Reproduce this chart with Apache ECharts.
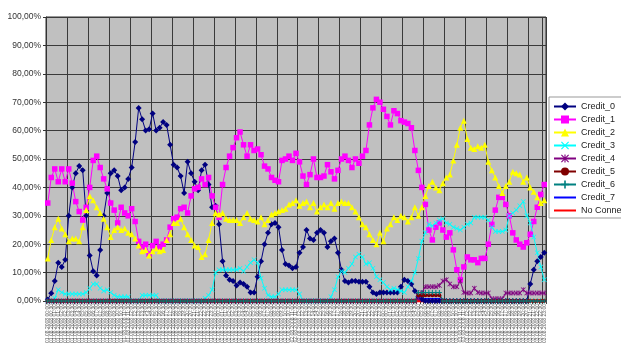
<!DOCTYPE html>
<html><head><meta charset="utf-8">
<script src="https://cdn.jsdelivr.net/npm/echarts@6/dist/echarts.min.js"></script>
<style>html,body{margin:0;padding:0;background:#fff}#c{width:621px;height:350px}</style>
</head><body><div id="c"></div>
<script>
// category labels (timestamps, unreadable in the reference; one per sample)
const categories = [];
for (let i = 0; i < 143; i++) {
  const t = new Date(Date.UTC(2008, 7, 1, 0, 0) + i * 30 * 60000);
  const p = n => String(n).padStart(2, '0');
  categories.push(p(t.getUTCDate()) + '.' + p(t.getUTCMonth() + 1) + '.' + t.getUTCFullYear() + ' ' + p(t.getUTCHours()) + ':' + p(t.getUTCMinutes()));
}
const yTicks = [0, 10, 20, 30, 40, 50, 60, 70, 80, 90, 100];
const seriesNames = ['Credit_0','Credit_1','Credit_2','Credit_3','Credit_4','Credit_5','Credit_6','Credit_7','No Connect'];

const credit0 = [
0.5,2.7,7,13.5,12,14.5,30,40,45,47.5,
46,30,16,10.5,9,18,30,38,45,46,
44,39,40,43,47,56,68,64,60,60.5,
66,60,61,63,62,55,48,47,44,38,
49,45,42,39,46,48,41,33,33.5,27,
14,9,7.5,7,5.5,6.5,6,5,3,3,
8.5,14,20,24,27,27.5,26,18,13,12.5,
11.5,12,17,19,25,22,21.5,24,25,24,
19,21,22,17,11,7,6.5,7,7,6.8,
6.8,6.8,5,3,2.5,3,3,3,3,3,
3,5,7.5,7,6,3.5,1.5,0.5,0,0,
0,0,0,0,0,0,0,0,0,0,
0,0,0,0,0,0,0,0,0,0,
0,0,0,0,0,0,0,0,6,11,
14,15.5,17];
const credit1 = [
34.5,43.5,46.5,42,46.5,42,46.5,41.5,35,31.5,
28.5,33,40,49.5,51,47,43,39.5,34.5,32,
27.5,33,31,30,32.5,28,21,19,20,16.5,
19.5,21,19,20,21.5,26,29,29.5,32.5,33,
31,37,39.5,40,43,41,43.5,37,33,29.5,
41,47,51,54,57.5,59.5,55,51,55,53,
53.5,51.5,47.5,46.5,43.5,42.5,42,49.5,50,51,
49.5,52,49,44,41,44.5,50,43.5,43.5,44,
48,45.5,43,46,50,51,49.5,47,50,48.5,
51,53,62,68,71,70,67.5,65,62,67,
66,63.5,63,62.5,61,53,46,40,34,25,
21.5,26,27.5,25,22.5,24,18,11,7.5,12,
15.5,14.5,14.5,13.5,15,15,20,27,32,36.5,
36.5,34,30,24,21.5,20,19,20.5,23.5,28,
33,37.5,41];
const credit2 = [
15,21.5,26,29,25.5,23.5,21,22,22,21,
26,32,37,35.5,33,31,29,26,22.5,25,
26,25,25.5,24,23.5,22,19.5,17.5,18,16,
17.5,18.5,17.5,18,21.5,23.5,27.5,27.5,29,26,
23.5,21.5,19.5,19,15.5,16.5,21.5,27.5,31,30.5,
31,29,28.5,28.5,28.5,27.5,29.5,31,29,28.5,
28,29.5,27,28.5,30.5,31,31.5,32,32.5,34,
34.5,35.5,33.5,34.5,35,33,34.5,31.5,33,34,
33,34.5,32.5,34.5,35,34.5,34.5,33,31.5,29.5,
27,26,23.5,21.5,20,24,21,25.5,27,29.5,
28.5,30,29.5,28,29.5,33,30,33,37,40.5,
42,40,39,41.5,43.5,44.5,49.5,55,61,63.5,
57,54,53.5,54.5,54,55,49,46,43.5,40.5,
38,40.5,42,45.5,45,44.5,42,43.5,40,38.5,
36.5,34.5,35.5];
const credit3 = [
0,0,1,4,3,2.5,2.5,2.5,2.5,2.5,
2.5,3,4.5,6,6,4.5,3.5,4,3,2,
1.5,1.5,1.5,1.5,0,0,0,2,2,2,
2,2,0,0,0,0,0,0,0,0,
0,0,0,0,0,1,2,4,10,11,
11,11,11,11,11,11.5,10.5,12,13.5,14.5,
13.5,8,4.5,2,1.5,1.5,2.5,4,4,4,
4,4,2.5,0,0,0,0,0,0,0,
0,1.5,4,8.5,10.5,10,11.5,13,15.5,16.5,
15.5,13,13.5,11.5,8.5,7.5,6.5,5,4,4.5,
4,3.5,3,5,7,10,15,21,24,27,
26.5,27.5,28.5,29,27.5,27,26,25.5,25,26,
27,27.5,29.5,29.5,29.5,29.5,28.5,26,24.5,24.5,
24.5,25,30,31,32,33.5,35,30,27.5,22.5,
17,12,7.5];
const credit4 = [
0,0,0,0,0,0,0,0,0,0, 0,0,0,0,0,0,0,0,0,0,
0,0,0,0,0,0,0,0,0,0, 0,0,0,0,0,0,0,0,0,0,
0,0,0,0,0,0,0,0,0,0, 0,0,0,0,0,0,0,0,0,0,
0,0,0,0,0,0,0,0,0,0, 0,0,0,0,0,0,0,0,0,0,
0,0,0,0,0,0,0,0,0,0, 0,0,0,0,0,0,0,0,0,0,
0,0,0,0,0,0,1,3,5,5,
5,5,5.5,7,7.5,6,5,5,7,3,
2.8,2.8,4.5,3,2.8,2.8,2.8,0.8,0.8,0.8,
0.8,2.8,2.8,2.8,2.8,2.8,4,2.8,2.8,2.8,
2.8,2.8,2.8];
const credit5 = [
0,0,0,0,0,0,0,0,0,0, 0,0,0,0,0,0,0,0,0,0,
0,0,0,0,0,0,0,0,0,0, 0,0,0,0,0,0,0,0,0,0,
0,0,0,0,0,0,0,0,0,0, 0,0,0,0,0,0,0,0,0,0,
0,0,0,0,0,0,0,0,0,0, 0,0,0,0,0,0,0,0,0,0,
0,0,0,0,0,0,0,0,0,0, 0,0,0,0,0,0,0,0,0,0,
0,0,0,0,0,0,2,2,2,2,
2,2,2,0,0,0,0,0,0,0,
0,0,0,0,0,0,0,0,0,0, 0,0,0,0,0,0,0,0,0,0,
0,0,0];
const credit6 = [
0,0,0,0,0,0,0,0,0,0, 0,0,0,0,0,0,0,0,0,0,
0,0,0,0,0,0,0,0,0,0, 0,0,0,0,0,0,0,0,0,0,
0,0,0,0,0,0,0,0,0,0, 0,0,0,0,0,0,0,0,0,0,
0,0,0,0,0,0,0,0,0,0, 0,0,0,0,0,0,0,0,0,0,
0,0,0,0,0,0,0,0,0,0, 0,0,0,0,0,0,0,0,0,0,
0,0,0,0,0,0,3,3,3,3,
3,3,3,0,0,0,0,0,0,0,
0,0,0,0,0,0,0,0,0,0, 0,0,0,0,0,0,0,0,0,0,
0,0,0];
const credit7 = [
0,0,0,0,0,0,0,0,0,0, 0,0,0,0,0,0,0,0,0,0,
0,0,0,0,0,0,0,0,0,0, 0,0,0,0,0,0,0,0,0,0,
0,0,0,0,0,0,0,0,0,0, 0,0,0,0,0,0,0,0,0,0,
0,0,0,0,0,0,0,0,0,0, 0,0,0,0,0,0,0,0,0,0,
0,0,0,0,0,0,0,0,0,0, 0,0,0,0,0,0,0,0,0,0,
0,0,0,0,0,0,0.8,0.8,0.8,0.8,
0.8,0.8,0.8,0,0,0,0,0,0,0,
0,0,0,0,0,0,0,0,0,0, 0,0,0,0,0,0,0,0,0,0,
0,0,0];
const noConnect = [
0,0,0,0,0,0,0,0,0,0, 0,0,0,0,0,0,0,0,0,0,
0,0,0,0,0,0,0,0,0,0, 0,0,0,0,0,0,0,0,0,0,
0,0,0,0,0,0,0,0,0,0, 0,0,0,0,0,0,0,0,0,0,
0,0,0,0,0,0,0,0,0,0, 0,0,0,0,0,0,0,0,0,0,
0,0,0,0,0,0,0,0,0,0, 0,0,0,0,0,0,0,0,0,0,
0,0,0,0,0,0,0,0,0,0, 0,0,0,0,0,0,0,0,0,0,
0,0,0,0,0,0,0,0,0,0, 0,0,0,0,0,0,0,0,0,0,
0,0,0];

const X_SYM = 'path://M0,1L1,0L5,4L9,0L10,1L6,5L10,9L9,10L5,6L1,10L0,9L4,5Z';
const PLUS_SYM = 'path://M4,0H6V4H10V6H6V10H4V6H0V4H4Z';
const STAR_SYM = 'path://M0,1L1,0L4.3,3.3V0H5.7V3.3L9,0L10,1L6,5L10,9L9,10L5.7,6.7V10H4.3V6.7L1,10L0,9L4,5Z';

function mk(name, data, color, symbol, size, lw) {
  return {
    name, type: 'line', data,
    symbol, symbolSize: size, showSymbol: symbol !== 'none',
    itemStyle: { color },
    lineStyle: { color, width: lw || 1 },
    emphasis: { disabled: true }
  };
}

const legendData = seriesNames.map(n => (n === 'Credit_7' || n === 'No Connect')
  ? { name: n, itemStyle: { opacity: 0 } } : { name: n });

const chart = echarts.init(document.getElementById('c'), null, { renderer: 'canvas' });
chart.setOption({
  animation: false,
  backgroundColor: '#ffffff',
  grid: { left: 46, right: 75, top: 17, bottom: 49, show: true, backgroundColor: '#c0c0c0', borderColor: '#333', borderWidth: 1 },
  legend: {
    orient: 'vertical', left: 549, top: 97,
    data: legendData,
    backgroundColor: '#ffffff', borderColor: '#999', borderWidth: 1,
    padding: [5, 8, 3, 4],
    itemWidth: 22, itemHeight: 10, itemGap: 4,
    textStyle: { fontFamily: 'Liberation Sans, Arial, sans-serif', fontSize: 9, color: '#222' }
  },
  xAxis: {
    type: 'category', data: categories, boundaryGap: true,
    axisLine: { lineStyle: { color: '#333' } },
    axisTick: { show: true, interval: 0, length: 3, lineStyle: { color: '#444' } },
    axisLabel: { interval: 0, rotate: 90, fontSize: 5, color: '#555', margin: 3, fontFamily: 'Liberation Sans, Arial, sans-serif' },
    splitLine: { show: true, interval: 5, lineStyle: { color: '#3a3a3a', width: 1 } }
  },
  yAxis: {
    type: 'value', min: yTicks[0], max: yTicks[yTicks.length - 1], interval: 10,
    axisLine: { show: true, lineStyle: { color: '#333' } },
    axisTick: { show: true, length: 3, lineStyle: { color: '#333' } },
    axisLabel: { formatter: v => v.toFixed(2).replace('.', ',') + '%', fontSize: 8.5, color: '#333', margin: 5, fontFamily: 'Liberation Sans, Arial, sans-serif' },
    splitLine: { show: true, lineStyle: { color: '#3a3a3a', width: 1 } }
  },
  series: [
    mk('Credit_0', credit0, '#000080', 'diamond', 6),
    mk('Credit_1', credit1, '#ff00ff', 'rect', 5.5),
    mk('Credit_2', credit2, '#ffff00', 'triangle', 6),
    mk('Credit_3', credit3, '#00ffff', X_SYM, 5),
    mk('Credit_4', credit4, '#800080', STAR_SYM, 5),
    mk('Credit_5', credit5, '#800000', 'circle', 4),
    mk('Credit_6', credit6, '#008080', PLUS_SYM, 5),
    mk('Credit_7', credit7, '#0000ff', 'none', 0, 1.5),
    mk('No Connect', noConnect, '#ff0000', 'none', 0, 3)
  ]
});
</script></body></html>
